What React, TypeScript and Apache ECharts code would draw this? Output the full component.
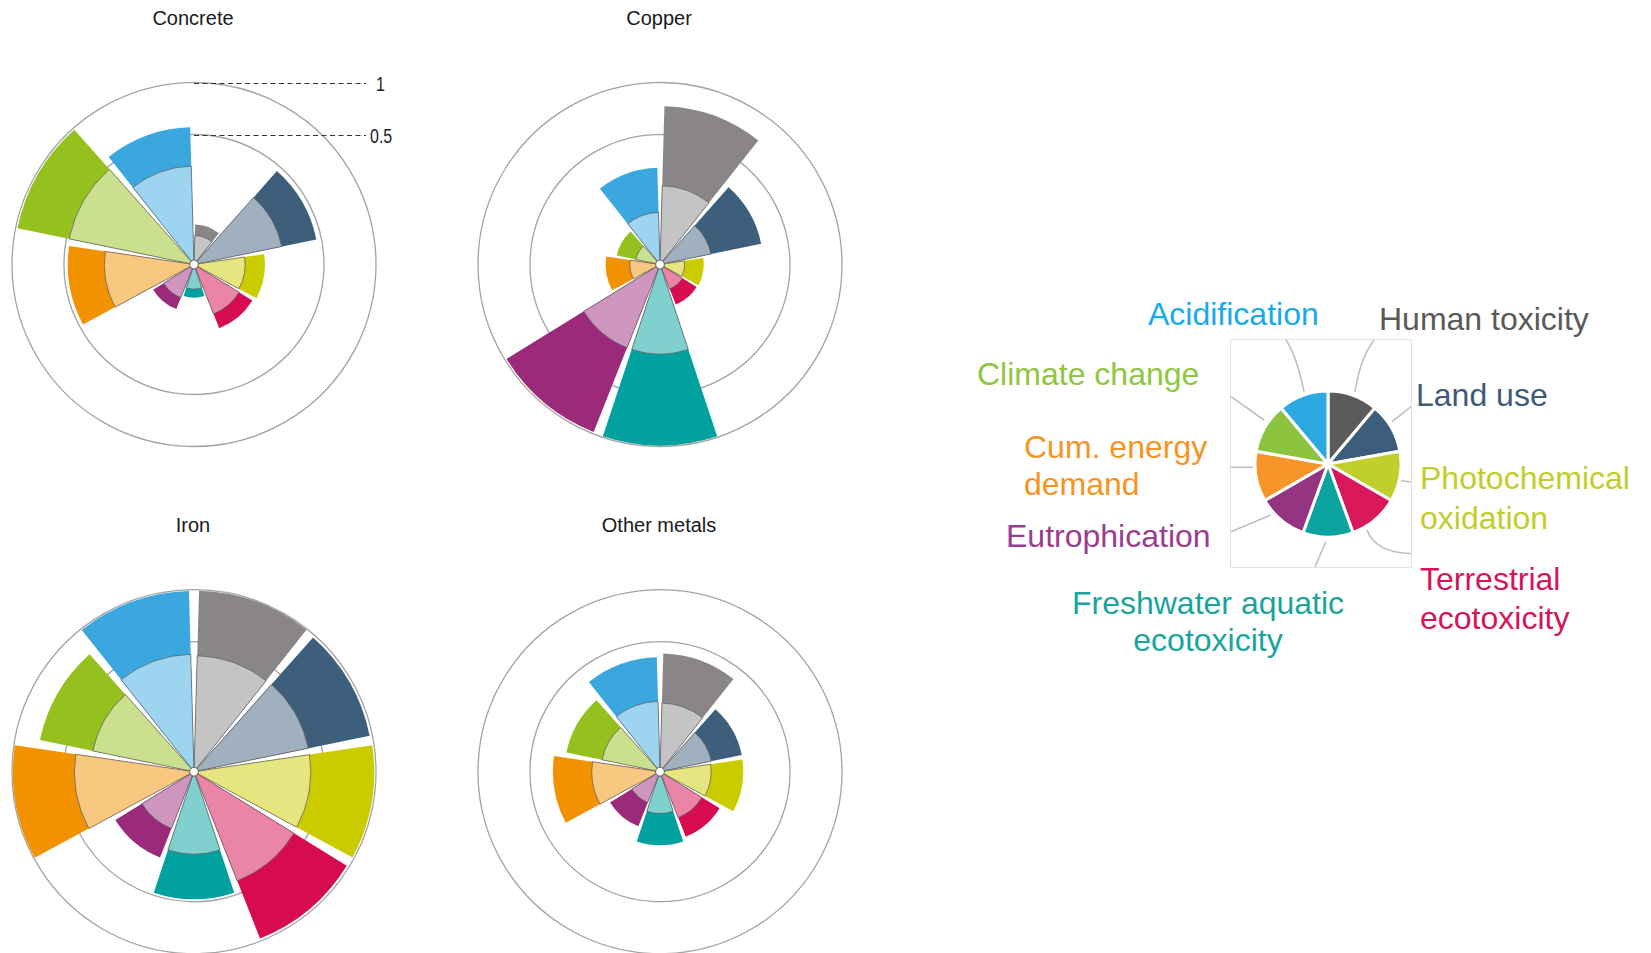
import React, { useEffect, useRef } from 'react';
import * as echarts from 'echarts';

// Impact categories, clockwise from 12 o'clock
const categories = [
  'Human toxicity',
  'Land use',
  'Photochemical oxidation',
  'Terrestrial ecotoxicity',
  'Freshwater aquatic ecotoxicity',
  'Eutrophication',
  'Cum. energy demand',
  'Climate change',
  'Acidification',
];

const panelTitles = ['Concrete', 'Copper', 'Iron', 'Other metals'];

// Normalised impact values (area-proportional: radius ~ sqrt(value))
const concreteOuter = [0.04, 0.46, 0.14, 0.13, 0.026, 0.06, 0.47, 0.98, 0.56];
const concreteInner = [0.019, 0.23, 0.069, 0.075, 0.013, 0.031, 0.23, 0.48, 0.28];
const copperOuter = [0.75, 0.31, 0.049, 0.047, 0.99, 0.98, 0.079, 0.05, 0.27];
const copperInner = [0.175, 0.072, 0.013, 0.015, 0.23, 0.23, 0.021, 0.013, 0.072];
const ironOuter = [0.99, 0.97, 0.98, 0.97, 0.48, 0.245, 0.99, 0.74, 0.985];
const ironInner = [0.395, 0.4, 0.4, 0.405, 0.193, 0.102, 0.42, 0.31, 0.405];
const otherOuter = [0.41, 0.198, 0.197, 0.136, 0.151, 0.093, 0.334, 0.263, 0.384];
const otherInner = [0.131, 0.073, 0.069, 0.064, 0.044, 0.026, 0.129, 0.095, 0.138];

const ringValues = [1, 0.5];
const ringLabels = ['1', '0.5'];

const legendShares = [1, 1, 1, 1, 1, 1, 1, 1, 1];
const legendLabels = [
  'Human toxicity',
  'Land use',
  'Photochemical\noxidation',
  'Terrestrial\necotoxicity',
  'Freshwater aquatic\necotoxicity',
  'Eutrophication',
  'Cum. energy\ndemand',
  'Climate change',
  'Acidification',
];

const darkColors = ['#8a8687', '#3e5f7c', '#cbcc00', '#d60b52', '#00a19e', '#9c2a7b', '#f39200', '#95c11f', '#3aa8de'];
const lightColors = ['#c5c4c5', '#a0b0bf', '#e6e680', '#ea85a8', '#80d0ce', '#ce95bd', '#f9c880', '#cae08f', '#9dd4ef'];
const pieColors = ['#5b5b5b', '#3d5e7b', '#c0cf2e', '#d9195b', '#0da39e', '#953480', '#f6962a', '#8cc43f', '#2da9e1'];
const labelColors = ['#595959', '#3d5a7a', '#c3cd2a', '#d6145a', '#19a59d', '#993d8f', '#f7941d', '#8dc63f', '#1aa9e8'];

const FONT = '"Liberation Sans", Arial, Helvetica, sans-serif';
const R0 = 4.5;
const R1 = 182;

const panels = [
  { title: panelTitles[0], cx: 194, cy: 264.5, outer: concreteOuter, inner: concreteInner },
  { title: panelTitles[1], cx: 660, cy: 264.5, outer: copperOuter, inner: copperInner },
  { title: panelTitles[2], cx: 194, cy: 771.7, outer: ironOuter, inner: ironInner },
  { title: panelTitles[3], cx: 660, cy: 771.7, outer: otherOuter, inner: otherInner },
];

// legend label layout (left/center x, middle y, line height, align)
const labelLayout = [
  { x: 1379, y: 319, lh: 38, align: 'left' },
  { x: 1416, y: 395, lh: 38, align: 'left' },
  { x: 1420, y: 497.5, lh: 40, align: 'left' },
  { x: 1420, y: 598.5, lh: 39, align: 'left' },
  { x: 1208, y: 621.3, lh: 37.5, align: 'center' },
  { x: 1006, y: 536, lh: 38, align: 'left' },
  { x: 1024, y: 465.3, lh: 37.3, align: 'left' },
  { x: 977, y: 373.5, lh: 38, align: 'left' },
  { x: 1148, y: 314, lh: 38, align: 'left' },
];

export default function App() {
  const ref = useRef<HTMLDivElement>(null);

  useEffect(() => {
    if (!ref.current) return;
    const chart = echarts.init(ref.current, undefined, { renderer: 'svg' });

    const polar = panels.map((p) => ({ center: [p.cx, p.cy], radius: [R0, R1] }));
    const angleAxis = panels.map((_, i) => ({
      polarIndex: i,
      type: 'category',
      data: categories,
      startAngle: 90,
      clockwise: true,
      boundaryGap: true,
      axisLine: { show: false },
      axisTick: { show: false },
      axisLabel: { show: false },
      splitLine: { show: false },
    }));
    const radiusAxis = panels.map((_, i) => ({
      polarIndex: i,
      type: 'value',
      min: 0,
      max: 1,
      interval: Math.SQRT1_2,
      axisLine: { show: false },
      axisTick: { show: false },
      axisLabel: { show: false },
      splitLine: { show: true, lineStyle: { color: '#a3a3a3', width: 1.3 } },
    }));

    const series: any[] = [];
    panels.forEach((p, i) => {
      series.push({
        type: 'bar',
        name: p.title + ' outer',
        coordinateSystem: 'polar',
        polarIndex: i,
        data: p.outer.map((v) => Math.sqrt(v)),
        barCategoryGap: '8%',
        barGap: '-100%',
        silent: true,
        z: 2,
        itemStyle: { color: (q: any) => darkColors[q.dataIndex] },
      });
      series.push({
        type: 'bar',
        name: p.title + ' inner',
        coordinateSystem: 'polar',
        polarIndex: i,
        data: p.inner.map((v) => Math.sqrt(v)),
        barCategoryGap: '8%',
        barGap: '-100%',
        silent: true,
        z: 3,
        itemStyle: {
          color: (q: any) => lightColors[q.dataIndex],
          borderColor: '#555',
          borderWidth: 0.7,
        },
      });
    });

    series.push({
      type: 'pie',
      name: 'legend',
      center: [1328, 464],
      radius: [0, 73],
      startAngle: 90,
      clockwise: true,
      silent: true,
      z: 5,
      label: { show: false },
      labelLine: { show: false },
      itemStyle: { borderColor: '#ffffff', borderWidth: 3 },
      data: categories.map((c, i) => ({ name: c, value: legendShares[i], itemStyle: { color: pieColors[i] } })),
    });

    const title = panels.map((p) => ({
      text: p.title,
      left: p.cx - 1,
      top: p.cy < 500 ? 8 : 514.5,
      textAlign: 'center',
      padding: 0,
      textStyle: { fontSize: 20, fontWeight: 'normal', color: '#1a1a1a', fontFamily: FONT },
    }));

    const graphic: any[] = [];
    // legend box
    graphic.push({
      type: 'rect',
      z: 0,
      shape: { x: 1230.5, y: 339.5, width: 181, height: 228 },
      style: { fill: 'none', stroke: '#e2e2e2', lineWidth: 1 },
    });
    const leaderStyle = { stroke: '#c0c0c0', lineWidth: 1.6, fill: 'none' };
    graphic.push({ type: 'bezierCurve', z: 1, shape: { x1: 1286, y1: 340, cpx1: 1294, cpy1: 352, cpx2: 1300, cpy2: 372, x2: 1304, y2: 392 }, style: leaderStyle });
    graphic.push({ type: 'bezierCurve', z: 1, shape: { x1: 1374, y1: 340, cpx1: 1365, cpy1: 352, cpx2: 1358, cpy2: 372, x2: 1355, y2: 392 }, style: leaderStyle });
    graphic.push({ type: 'line', z: 1, shape: { x1: 1411, y1: 406.7, x2: 1392, y2: 421.7 }, style: leaderStyle });
    graphic.push({ type: 'line', z: 1, shape: { x1: 1231, y1: 396.7, x2: 1264, y2: 420 }, style: leaderStyle });
    graphic.push({ type: 'line', z: 1, shape: { x1: 1231, y1: 467.3, x2: 1253, y2: 467.3 }, style: leaderStyle });
    graphic.push({ type: 'line', z: 1, shape: { x1: 1400, y1: 480.5, x2: 1411, y2: 482 }, style: leaderStyle });
    graphic.push({ type: 'line', z: 1, shape: { x1: 1231, y1: 531.7, x2: 1270.7, y2: 515 }, style: leaderStyle });
    graphic.push({ type: 'line', z: 1, shape: { x1: 1325.8, y1: 541.7, x2: 1315, y2: 567 }, style: leaderStyle });
    graphic.push({ type: 'bezierCurve', z: 1, shape: { x1: 1367, y1: 530, cpx1: 1373, cpy1: 546, cpx2: 1390, cpy2: 553, x2: 1411, y2: 553.5 }, style: leaderStyle });

    legendLabels.forEach((t, i) => {
      const l = labelLayout[i];
      graphic.push({
        type: 'text',
        z: 10,
        x: l.x,
        y: l.y,
        style: {
          text: t,
          fill: labelColors[i],
          fontSize: 32,
          fontFamily: FONT,
          align: l.align,
          verticalAlign: 'middle',
          lineHeight: l.lh,
        },
      });
    });

    // ring annotations on the Concrete panel
    const p0 = panels[0];
    ringValues.forEach((v, i) => {
      const y = p0.cy - (R0 + (R1 - R0) * Math.sqrt(v));
      graphic.push({
        type: 'line',
        z: 10,
        shape: { x1: p0.cx, y1: y + 1, x2: 366, y2: y + 1 },
        style: { stroke: '#333', lineWidth: 1.2, lineDash: [5, 3.5] },
      });
      graphic.push({
        type: 'text',
        z: 10,
        x: i === 0 ? 376 : 370,
        y: y + 1.5,
        scaleX: 0.8,
        style: {
          text: ringLabels[i],
          fill: '#222',
          fontSize: 20,
          fontFamily: FONT,
          align: 'left',
          verticalAlign: 'middle',
        },
      });
    });

    chart.setOption({
      animation: false,
      backgroundColor: '#ffffff',
      title,
      polar,
      angleAxis,
      radiusAxis,
      series,
      graphic,
    });

    return () => chart.dispose();
  }, []);

  return (
    <div
      ref={ref}
      style={{ position: 'absolute', left: 0, top: 0, width: 1651, height: 953, background: '#fff' }}
    />
  );
}
